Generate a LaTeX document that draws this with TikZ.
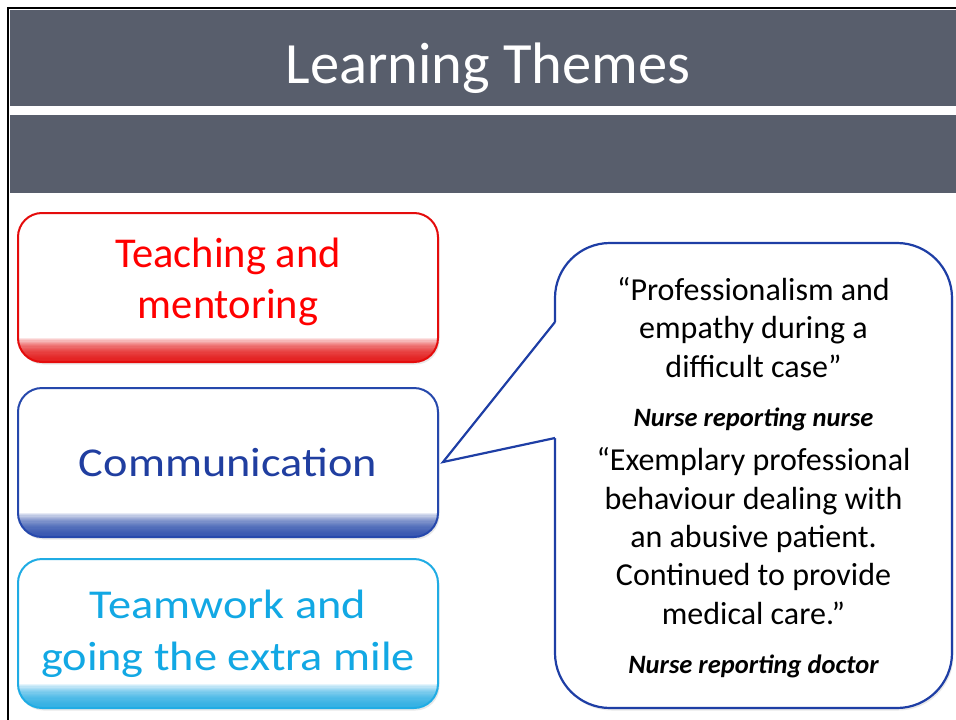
\documentclass[tikz,border=0pt]{standalone}
\usepackage{fontspec}
\setmainfont{Carlito}
\newfontfamily\widefont[FakeStretch=1.13]{Carlito}
\usetikzlibrary{positioning,shadows}

\definecolor{boardgrey}{RGB}{88,94,108}
\definecolor{themered}{RGB}{255,0,0}
\definecolor{redline}{RGB}{228,12,12}
\definecolor{themeblue}{RGB}{32,62,160}
\definecolor{blueline}{RGB}{38,72,172}
\definecolor{themecyan}{RGB}{18,168,228}
\definecolor{cyanline}{RGB}{32,172,228}
\definecolor{quoteline}{RGB}{30,62,165}

\begin{document}
\begin{tikzpicture}[
  x=1pt, y=-1pt,
  theme/.style={draw=#1, line width=2pt, fill=white, rounded corners=24pt,
    minimum width=420pt, minimum height=149pt, align=center, inner sep=0pt,
    drop shadow={opacity=0.18, shadow xshift=1.5pt, shadow yshift=-2.5pt},
    path picture={\foreach \k in {1,...,20}{
      \fill[#1, opacity=0.11, sharp corners] (path picture bounding box.south west)
        rectangle ([yshift=\k*1.2pt]path picture bounding box.south east);}}},
  redtheme/.style={theme=redline, text=themered, font=\fontsize{42.5}{51}\selectfont, text depth=19pt},
  bluetheme/.style={theme=blueline, text=themeblue, font=\widefont\fontsize{41}{52}\selectfont},
  cyantheme/.style={theme=cyanline, text=themecyan, font=\widefont\fontsize{41}{52}\selectfont},
  quotebox/.style={draw=quoteline, line width=2.2pt, fill=white, rounded corners=55pt,
    minimum width=397pt, minimum height=465pt,
    drop shadow={opacity=0.18, shadow xshift=1.5pt, shadow yshift=-2.5pt}},
  pointer/.style={draw=quoteline, line width=2.2pt, line join=miter},
  quote/.style={align=center, font=\fontsize{32}{38.3}\selectfont, inner sep=0pt, anchor=base},
  reporter/.style={font=\fontsize{26.5}{30}\selectfont\bfseries\itshape, inner sep=0pt, anchor=base}
]
\useasboundingbox (0,0) rectangle (956,720);

% header board
\fill[boardgrey] (9.5,9.5) rectangle (956,193);
\fill[white] (9.5,106) rectangle (956,115);
\draw[line width=2.5pt] (8.2,720) -- (8.2,8.2) -- (956,8.2);
\node[text=white, font=\fontsize{58.5}{62}\selectfont, inner sep=0pt, anchor=base] (title) at (488,83) {Learning Themes};

% themes
\node[redtheme] (teach) at (228,287.5) {Teaching and\\mentoring};
\node[bluetheme, below=24pt of teach] (comm) {Communication};
\node[cyantheme, below=20pt of comm] (team) {Teamwork and\\going the extra mile};

% callout
\node[quotebox] (quote) at (753.5,475.5) {};
\coordinate (tip) at (443,462);
\coordinate (ptop) at (555,322);
\coordinate (pbot) at (555,438);
\fill[white] ([xshift=3pt]ptop) -- (ptop) -- (tip) -- (pbot) -- ([xshift=3pt]pbot) -- cycle;
\draw[pointer] (ptop) -- (tip) -- (pbot);

\node[quote] (q1) at (753.5,377) {“Professionalism and\\empathy during a\\difficult case”};
\node[reporter] (r1) at (753.5,426) {Nurse reporting nurse};
\node[quote] (q2) at (753.5,624) {“Exemplary professional\\behaviour dealing with\\an abusive patient.\\Continued to provide\\medical care.”};
\node[reporter] (r2) at (753.5,673) {Nurse reporting doctor};

\end{tikzpicture}
\end{document}
